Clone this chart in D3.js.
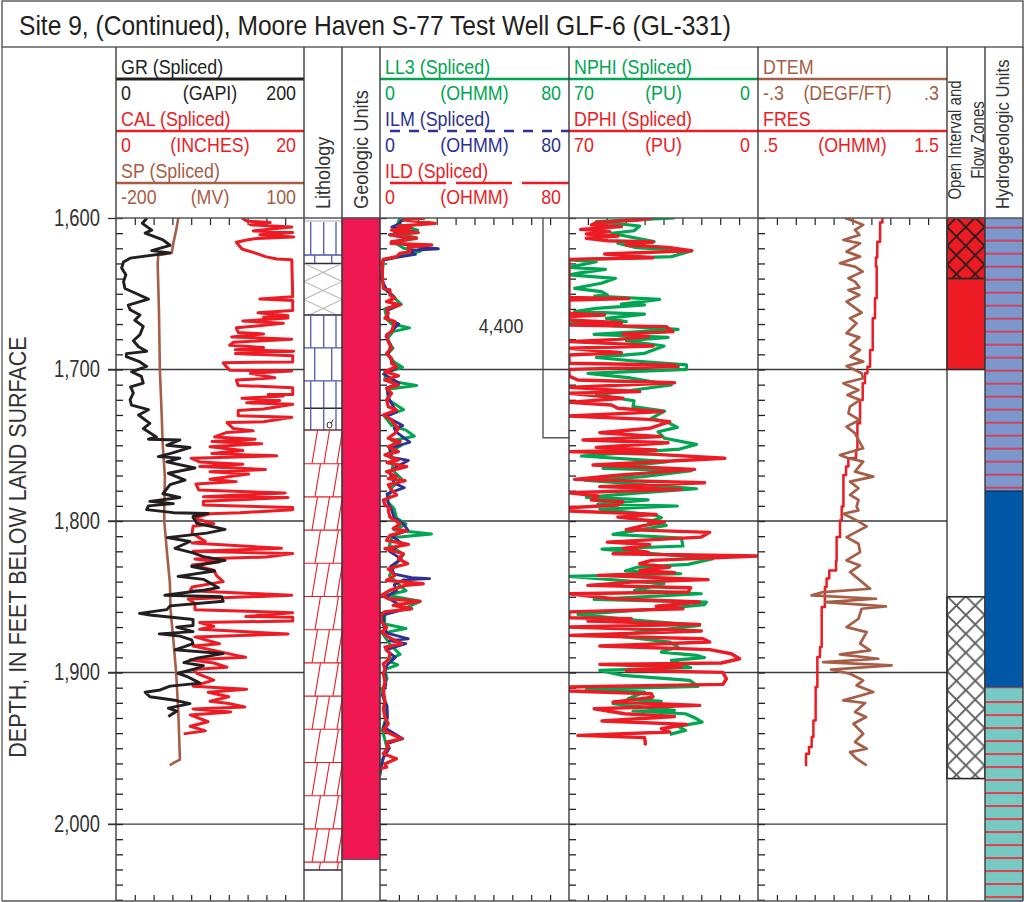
<!DOCTYPE html>
<html lang="en">
<head>
<meta charset="UTF-8">
<title>Site 9 GLF-6</title>
<script src="https://d3js.org/d3.v7.min.js"></script>
<style>
    html, body { margin: 0; padding: 0; background: #fff; }
    svg { display: block; }
    text { font-family: "Liberation Sans", sans-serif; }
    .tick-only path.domain { display: none; }
</style>
</head>
<body>
<svg id="chart" width="1024" height="902"></svg>
<script>
// Curves are [depth in feet, log value].
const gr = [[1600,33],[1603.5,28],[1608,38],[1610,31],[1614.5,50],[1618,57.5],[1621.5,38],[1623,57.5],[1626.5,15],[1629,8],[1633,6],[1637.5,10.5],[1642,8],[1646.5,9.5],[1650,22],[1653.5,34.5],[1657.5,13],[1660.5,15],[1664,25.5],[1667.5,20],[1671.5,29],[1677,25.5],[1681,18.5],[1685,24],[1688,32.6],[1689.5,11],[1691.5,11],[1695,25.5],[1698,32.6],[1701.5,16.5],[1704.5,27],[1709,29],[1711.5,15.5],[1715.5,18.5],[1720,15],[1723.5,16.5],[1726.5,34.5],[1730,24],[1735.5,36],[1739,29],[1744.5,43],[1746,34.5],[1746.5,68],[1750,54],[1751.5,78.7],[1755.5,57.5],[1757.5,45],[1758.5,68],[1761,54],[1765,84],[1768.5,55.7],[1773,73.4],[1776,57.5],[1782,50],[1784.5,68],[1787,36],[1788.5,61],[1790,34.5],[1792.5,32.6],[1794.5,61],[1795,98],[1797,82],[1801.5,86],[1805.5,116],[1808,96.5],[1811,54.6],[1813.5,78.7],[1818,62.8],[1821,82],[1823.5,93],[1826,116],[1830,80.5],[1833,105],[1836.5,66],[1838.5,93],[1844,109],[1845.5,94.7],[1849,52],[1850,112.4],[1853,114],[1856,57.5],[1858.5,54],[1861,25],[1862,36],[1865,82],[1869,82],[1870,64.5],[1873,82],[1874.5,46],[1876,68],[1878.5,80.5],[1881,82],[1885,62.8],[1887.5,114],[1890.5,86],[1893.5,72.3],[1895.5,93],[1898,82],[1900.5,66],[1902.5,75],[1907,89.4],[1909,57.5],[1911.5,47],[1913,31],[1916,36],[1918.5,64.5],[1920.5,78.7],[1923.5,55.7],[1925.5,64.5],[1929,55.7]];
const cal = [[1600,13.4],[1602,13.9],[1603,16.4],[1604.5,14.3],[1606,18.7],[1608.5,14.6],[1609.5,18.8],[1611,15.3],[1612.5,18.9],[1613.5,15],[1614.5,13.9],[1616,12.8],[1620.5,13.4],[1623.5,15],[1625.5,15.9],[1627,17.1],[1627.5,18.7],[1652,18.8],[1653.5,15.3],[1654.5,18.8],[1661,18.8],[1662.5,15.1],[1664.5,18.3],[1665.5,15.7],[1666,18.3],[1668,13.5],[1669.5,17.8],[1672.5,12.8],[1675.5,13],[1676.5,15.7],[1678.5,12.3],[1680,18.7],[1682,12.5],[1684,12.1],[1685.5,15.7],[1687,12.7],[1688,18.9],[1689.5,12.7],[1691,18.8],[1695,18.8],[1695.5,11.4],[1697,11.6],[1700.5,12.1],[1701,18.7],[1702.5,14.3],[1705.5,16.9],[1707,12.8],[1710.5,13],[1712,18.8],[1716.5,18.8],[1716.5,16.2],[1717.5,17.8],[1719,13.4],[1720.5,17.4],[1722,13.9],[1723,18.8],[1726,15.7],[1727,13],[1730.5,13],[1731.5,18.7],[1734.5,15.7],[1735,11.8],[1739,12.5],[1740.5,14.6],[1741.5,11.8],[1744.5,10.5],[1746,14.8],[1747.5,10.2],[1749,15.5],[1751,10],[1753.5,13.5],[1755.5,10.2],[1757,17.1],[1758.5,8],[1761,8.9],[1762.5,13.5],[1764,8.9],[1766,15.9],[1767.5,10],[1769,14.1],[1772.5,10],[1774,12.8],[1775.5,8.5],[1779.5,8.8],[1781.5,18],[1784,9.3],[1784.5,18.3],[1787,9.3],[1789.5,9.3],[1791,18.8],[1792.5,18.8],[1794.5,13.2],[1795.2,10],[1798,8.2],[1801.8,10.4],[1803.5,8.2],[1808,8.1],[1813.5,9.5],[1814.5,8.1],[1818,17.6],[1820,8.2],[1821.5,18.8],[1823.8,16],[1825,8.4],[1827,11],[1829,8.1],[1832.5,10.4],[1836,10.7],[1840,11.4],[1843.5,8.1],[1846,7.9],[1849,18.7],[1851.5,7.7],[1854.5,8.4],[1858.5,8.4],[1860.5,18.8],[1863,13.8],[1863.5,18.8],[1866,18.8],[1867,8.9],[1869.5,10.4],[1871.5,8.9],[1874.5,18.3],[1876.5,8.4],[1881,11],[1882.5,8.2],[1890,13.8],[1891.5,7.9],[1893.7,10.4],[1896.5,11.8],[1898,8.2],[1900.5,8.6],[1905,10.4],[1909,8.2],[1911,13.9],[1913,9.8],[1916,12],[1919,10],[1920.5,12],[1922.8,13.7],[1924,8.2],[1926,12.2],[1928,7.9],[1932.5,9.8],[1935.5,7.9],[1938.5,9.5],[1940.5,7.2]];
const sp = [[1600,-100.5],[1608,-104],[1616.7,-108.5],[1623,-111],[1624.5,-132.5],[1630,-133.5],[1660.5,-131.5],[1700,-130],[1731,-127],[1749,-125.5],[1771,-122],[1792,-123],[1800,-123],[1819,-119],[1841,-114],[1858.5,-113],[1878.3,-108.5],[1900.3,-104],[1926.7,-100.5],[1957.5,-98],[1959.7,-108.5],[1961.3,-114]];

const ll3 = [[1600,13],[1601.5,8],[1604,7.5],[1608,16],[1610,6],[1613,15.5],[1616,6],[1620,10],[1622,17],[1625.5,8],[1627.5,1.5],[1640,0.8],[1647,2],[1650,4.5],[1654,7],[1657,9],[1660,2],[1667,3],[1670,5],[1672.5,12.5],[1675,5.5],[1680,3],[1686,5.5],[1690,3],[1695,6],[1698.5,9.5],[1702,2.5],[1707,2],[1710.5,15.5],[1713,3],[1720,3.5],[1726.5,10],[1731,2],[1737,5],[1740,11],[1744,14.5],[1747,5],[1750,9],[1756,3],[1760,6],[1766,5],[1772,9],[1778,5],[1787,3],[1792,6],[1798,7],[1802,11],[1806,6],[1808.5,21.8],[1811,5],[1816,4],[1822,10],[1830,6],[1836,4],[1842,8],[1846,11],[1849,3],[1853,17],[1858,10],[1861,2],[1868,2],[1871,11],[1874,1],[1881,4],[1888,8.5],[1892,3],[1895,7.5],[1898,2],[1904,3],[1912,0.8],[1920,2],[1930,2.5],[1938,1],[1944,2],[1950,3],[1958,1],[1968,0]];
const ilm = [[1600,13],[1602,9],[1604,8],[1606,5],[1609,14],[1611,4],[1614,13],[1616,5],[1619,16],[1620.3,24.7],[1621.5,12],[1624,15],[1626,7],[1628,1.2],[1640,0.5],[1648,3],[1652,6],[1655,3.5],[1658,7.5],[1661,3],[1667,3.5],[1670,8],[1673,6],[1678,2.5],[1684,4.5],[1690,3.5],[1696,5.5],[1699,7],[1703,1.5],[1709,8.2],[1712,3],[1720,4],[1728,7],[1731,2.5],[1737,9.6],[1739,6],[1742,7.5],[1748,12.6],[1752,4],[1758,5],[1760,12],[1764,7],[1768,4],[1775,6],[1778,10.3],[1782,3],[1788,3.5],[1793,5],[1798,6],[1802,10],[1806,11.8],[1810,5],[1815,9.5],[1820,4],[1825,9],[1830,4.5],[1835,6],[1837.4,13.4],[1838,21],[1838.8,10],[1842,6],[1846,7],[1850,2.5],[1858,11],[1862,1.5],[1869,1.5],[1874,3],[1877.7,12],[1879,4],[1881,10.9],[1885,2.5],[1890,6.5],[1895,3],[1900,2],[1908,2.5],[1915,1],[1922,3],[1930,3.2],[1936,1.5],[1943.7,9.6],[1947,3],[1950,4],[1956,1.5],[1962,0.5],[1966,0]];
const ild = [[1600,19],[1601.3,9.9],[1603.5,23.3],[1605.3,7.8],[1606.5,13],[1608,4.9],[1609.7,16.2],[1611.2,4.2],[1613.4,15.5],[1615.6,4.9],[1616.7,4.7],[1617.8,21.9],[1619.4,12],[1622.2,12.7],[1623.3,8.5],[1625.5,7],[1627.3,1.4],[1628.8,1],[1638.7,1],[1646.4,1.4],[1647.5,4.2],[1650.8,4.2],[1653,6.3],[1655.2,2.8],[1657.4,8.5],[1659.6,2.8],[1662.9,3.5],[1666.2,2.1],[1668.4,6.3],[1671.7,5.6],[1675,4.9],[1677.2,2.8],[1681.6,3.5],[1686,4.9],[1689.3,2.8],[1692.6,4.9],[1696,4.9],[1698.1,7],[1701.4,2.1],[1704.1,7.8],[1706.9,2.1],[1710.2,7.8],[1712.4,2.8],[1715.7,4.9],[1720.1,2.8],[1724.5,3.5],[1726.7,7],[1730,1.4],[1733.3,4.9],[1735.5,5.6],[1738.9,7.8],[1742.1,6.3],[1745.4,3.5],[1747.6,8.5],[1751,3.5],[1754.2,7.8],[1756.4,2.1],[1759.7,7.8],[1761.5,3],[1764.1,11.3],[1767.4,2.8],[1770.7,7],[1772,3.5],[1773.4,10.6],[1776.2,3.5],[1779.5,4.9],[1782.8,7],[1786.1,1.4],[1789.4,2.1],[1791.6,4.2],[1793,3.5],[1797.4,4.2],[1801.8,8.5],[1805,5.6],[1806.6,11.3],[1809.5,4.2],[1812.8,2.8],[1815.4,12],[1818.3,2.1],[1821.6,9.9],[1824.9,7.8],[1828.2,11.7],[1831.5,3.5],[1835.9,6.3],[1839.2,2.8],[1841.4,18.3],[1842.5,10.6],[1845.8,4.2],[1849,0.7],[1851.3,3.5],[1853,16.9],[1855.7,5.6],[1857.9,13.4],[1860,2.1],[1862.3,0],[1866.7,0.7],[1870.4,2.8],[1873.3,0.7],[1876.6,3.5],[1881,9.2],[1883.2,2.1],[1887.6,4.2],[1892,3.5],[1894.2,1.4],[1897.5,2.1],[1900.8,1.4],[1906.3,2.1],[1911.8,1.4],[1918.4,2.1],[1923.9,1.4],[1929.4,2.1],[1933.8,3.5],[1938.2,1.4],[1943.7,9.2],[1945.9,2.8],[1949.2,3.5],[1953.6,1.4],[1956.9,7],[1960.2,2.1],[1962.4,2.8],[1963.5,0]];

const nphi = [[1600,30.9],[1602.4,59.9],[1605.3,43.8],[1608.4,45.9],[1610.1,54.3],[1615.6,38.5],[1616.7,51.9],[1619.6,45.1],[1621.6,24.4],[1625.5,32.1],[1627.7,70],[1628.8,59.9],[1632.6,70],[1633.9,56.5],[1636.1,65.4],[1637.6,70],[1639.8,52.8],[1643.1,58],[1646.4,67.9],[1648.6,58],[1650.8,55.8],[1651.5,60.5],[1653.7,36.4],[1656.8,50.6],[1657.4,42],[1659.6,59.9],[1661.8,67.9],[1663.4,42],[1666.2,56.2],[1668.4,48.8],[1669.5,70],[1673.5,29.6],[1676.8,60.7],[1678.8,33.3],[1681,48.8],[1684.5,34.8],[1689.3,42],[1692,59.9],[1694.2,46.9],[1697,26.5],[1699.9,26.5],[1702.5,63],[1705.4,48.1],[1710.2,32.1],[1716.8,59.9],[1720.6,45.9],[1724.5,46.3],[1727.4,34.6],[1732.2,39.5],[1735.5,32.7],[1738.2,29.9],[1741.1,37],[1745.4,34.6],[1749.4,22.8],[1752.5,29],[1757.1,65.4],[1760.8,33.3],[1765.2,57.4],[1766.8,24.7],[1770.7,42.6],[1773,64.2],[1778.7,22.8],[1781.8,46.3],[1784.4,63.6],[1786.1,40.7],[1788.8,59.3],[1790.1,29.9],[1792.1,58.6],[1796.3,37.7],[1797.8,35.8],[1800.7,40.7],[1802.9,34],[1808.8,53.7],[1811.2,28.4],[1816.5,27.8],[1818.5,57.8],[1824.9,16.7],[1828.6,25.9],[1830.4,44.4],[1833,49.1],[1834.8,28.6],[1836.5,70],[1841.4,34.8],[1845.8,45.7],[1848,21],[1851.7,60.7],[1853.5,19.1],[1855.2,19.8],[1857.9,35.8],[1861.6,66.7],[1863.4,56.8],[1865.6,44.7],[1868.9,21.6],[1875.5,53.7],[1879.9,32.7],[1883.2,29.6],[1886.5,35.8],[1888.7,22.8],[1890.2,19.8],[1892,32.1],[1896.8,24.9],[1898.6,58.6],[1901.9,50],[1905.2,25.3],[1909.1,22.2],[1911.1,63.6],[1912.9,42],[1917.3,48.1],[1919,35.8],[1920.6,53.7],[1925,30.9],[1925.4,46.3],[1927.2,26.9],[1929.8,23.5],[1932.7,20.7],[1935.5,29.6],[1938.2,26.9],[1940.8,32.7]];
const dphi = [[1600,38.9],[1601.3,44.4],[1603,59.9],[1604.6,61.7],[1605.7,50.6],[1607.5,65.7],[1609,54.9],[1610.6,63.6],[1611.9,51.9],[1613.4,63.6],[1615,55.6],[1615.8,38.9],[1617.8,48.8],[1619.4,33.3],[1621.6,24.7],[1623.8,56.8],[1626.2,38.9],[1627.3,70],[1652.4,70],[1653.2,47.8],[1654.1,70],[1662.9,70],[1664,56.8],[1665.1,70],[1667.3,70],[1669.1,50.6],[1670.6,70],[1671.7,34],[1675,31.5],[1676.6,50],[1678.3,40.7],[1680.1,51.9],[1681.6,70],[1683.4,46.9],[1684.5,38.9],[1686,70],[1688.9,50.6],[1690.4,70],[1695.9,70],[1697,31.5],[1698.1,29.6],[1699.9,70],[1704.3,70],[1706.9,66.7],[1708.7,30.9],[1711.8,70],[1714.6,43.8],[1715.7,70],[1719,50],[1721.7,70],[1723.4,54.3],[1725.6,51.9],[1727.8,35.2],[1730.7,70],[1732.9,40.7],[1734.4,32.7],[1738.8,40.1],[1741.7,58.6],[1744.3,35.8],[1746.5,64.8],[1748.3,33.3],[1751.4,59.9],[1753.1,37.7],[1754.2,70],[1756,37.7],[1758.6,12.3],[1763,61.1],[1765.9,23.5],[1770,53.1],[1772.5,67.9],[1774.7,19.8],[1777.3,58.6],[1779.1,28.4],[1781.3,70],[1783.5,59.3],[1786.1,61.7],[1787.2,50],[1789.4,51.9],[1791.2,70],[1793.4,70],[1795.6,37.7],[1797.4,51.9],[1800.7,34.6],[1802.9,42],[1805.7,48.8],[1807.5,17.9],[1810.6,21],[1813.9,55.8],[1815.6,40.1],[1818.3,50],[1820.5,40.7],[1821.6,53.7],[1823.1,0],[1826,39.5],[1828.2,43.8],[1830.4,32.7],[1832.6,43.8],[1834.1,30.9],[1835.9,59.3],[1838.7,18.5],[1840.3,46.9],[1842.5,63],[1844,24.9],[1846.9,25.9],[1848,70],[1851.3,53.7],[1853.5,21.6],[1856.3,37.7],[1857.9,27.8],[1860,70],[1863.8,70],[1864.5,46.9],[1866,63],[1868.2,21.6],[1870,70],[1872.6,21],[1875.5,70],[1877.7,20.4],[1879.9,17.9],[1882.5,58.6],[1884.9,17.9],[1887.6,9.9],[1890.9,6.8],[1893.7,13.6],[1894.6,58.6],[1896.4,28.4],[1898.6,48.8],[1899.9,13],[1904.1,11.7],[1907.8,13],[1909.6,70],[1912.2,70],[1914,39.5],[1916.2,38.9],[1919.5,53.7],[1921.7,21.6],[1923.9,60.7],[1927.2,49.4],[1929,30.9],[1932,57.8],[1934.2,26.5],[1937.1,35.8],[1939.3,32.7],[1941.5,66.7],[1943,42],[1947,41.7],[1948,42]];

const dtem = [[1600,-0.024],[1602,0.003],[1604.6,0.034],[1607.9,0.008],[1611.2,0.022],[1614.5,-0.029],[1616.7,0.024],[1622.2,-0.019],[1625.5,0.024],[1629.9,-0.04],[1632.1,0.008],[1635.4,0.032],[1639.8,-0.013],[1642,0.008],[1645.8,0.022],[1647.5,-0.013],[1650.8,0.022],[1655.2,-0.019],[1658.5,0.003],[1662.5,0.029],[1666.2,-0.008],[1669.5,0.013],[1676.1,-0.019],[1678.8,0.022],[1683.8,-0.008],[1687.1,0.024],[1691.5,-0.006],[1694.8,0.034],[1697.7,-0.019],[1702.5,0.029],[1705.8,0.034],[1709.1,-0.029],[1713.5,0.019],[1716.8,-0.016],[1720.1,0.024],[1724.5,-0.008],[1728.9,-0.013],[1733.3,0.022],[1737.7,-0.019],[1742.1,0.008],[1746.5,0.019],[1752,0.034],[1756.4,-0.04],[1758.6,-0.013],[1760.8,0.034],[1767.4,0.008],[1770.7,0.066],[1774,-0.008],[1778.4,0.019],[1782.8,-0.008],[1786.1,0.019],[1790.5,0.013],[1793,0.019],[1795.2,-0.029],[1799.6,0.013],[1803.5,0.045],[1810.6,-0.019],[1815,0.019],[1820.5,0.024],[1826,-0.019],[1829.3,0.024],[1833.7,-0.008],[1839.2,0.024],[1844.7,0.056],[1846.9,-0.093],[1849.1,-0.13],[1851.3,0.075],[1853.5,-0.087],[1856.3,0.106],[1857.9,0.029],[1864.5,0.019],[1870,-0.019],[1873.3,0.045],[1881,0.024],[1885.4,0.056],[1888,-0.04],[1890.9,0.082],[1893.1,-0.093],[1895.3,0.124],[1898.1,-0.068],[1900.8,-0.008],[1905.2,0.034],[1908.5,0.013],[1912.9,0.066],[1918.4,-0.029],[1920.1,0.04],[1926,0.008],[1929.4,0.043],[1933.8,0.003],[1940.4,0.034],[1945.9,0.008],[1950.3,0.045],[1952.5,-0.008],[1956.9,0.013],[1961.3,0.045]];
const fres = [[1600,1.158],[1603,1.146],[1615.6,1.131],[1626,1.124],[1632,1.128],[1637.6,1.128],[1653,1.119],[1666.2,1.107],[1687.1,1.093],[1698.1,1.079],[1702.5,1.066],[1709.1,1.054],[1720.1,1.04],[1735.5,1.026],[1753.1,1.019],[1758.6,0.978],[1764.1,0.966],[1769.6,0.952],[1790.5,0.943],[1793,0.943],[1799.6,0.934],[1810.6,0.916],[1826.6,0.913],[1832.6,0.877],[1838,0.863],[1843.6,0.854],[1856.8,0.837],[1883.2,0.828],[1889.8,0.814],[1909.6,0.805],[1931.6,0.793],[1942.6,0.784],[1949.2,0.77],[1953.6,0.754],[1961.9,0.754]];

const depthTicks = [1600, 1700, 1800, 1900, 2000];
const gridDepths = [1700, 1800, 1900, 2000];
const minorDepths = d3.range(1600, 2051, 10);

// Lithology intervals: top depth, bottom depth, kind.
const lithTops = [1600, 1630, 1664, 1725.5, 1740];
const lithBottoms = [1630, 1664, 1725.5, 1740, 2030.4];
const lithKinds = ["limestone", "silt", "limestone", "limestone", "dolomite"];
const geologicBottom = 2023.4;
const openTops = [1600, 1640, 1850];
const openBottoms = [1640, 1700, 1970];
const openKinds = ["hatchRed", "solidRed", "hatchWhite"];
const hydroTops = [1600, 1780.2, 1910];
const hydroBottoms = [1780.2, 1910, 2051];
const hydroColors = ["#7b97cc", "#0058a6", "#77c9c4"];
const cementedInterval = [1600, 1745];
const cementedLabel = "4,400";

const C = { black: "#231f20", red: "#ed1c24", brown: "#a65e46", green: "#00a651", blue: "#2e3192" };

const tracks = [
    { x0: 116, x1: 304, head: [
        { name: "GR (Spliced)", unit: "(GAPI)", lo: "0", hi: "200", color: C.black, w: 3 },
        { name: "CAL (Spliced)", unit: "(INCHES)", lo: "0", hi: "20", color: C.red, w: 2.4 },
        { name: "SP (Spliced)", unit: "(MV)", lo: "-200", hi: "100", color: C.brown, w: 2.4 }
    ], curves: [
        { data: cal, domain: [0, 20], color: C.red, w: 3 },
        { data: sp, domain: [-200, 100], color: C.brown, w: 2.6 },
        { data: gr, domain: [0, 200], color: C.black, w: 2.9 }
    ]},
    { x0: 380, x1: 569, head: [
        { name: "LL3 (Spliced)", unit: "(OHMM)", lo: "0", hi: "80", color: C.green, w: 2.4 },
        { name: "ILM (Spliced)", unit: "(OHMM)", lo: "0", hi: "80", color: C.blue, w: 2.4, dash: "10,9", inset: 10 },
        { name: "ILD (Spliced)", unit: "(OHMM)", lo: "0", hi: "80", color: C.red, w: 2.4, dash: "56,10", inset: 10 }
    ], curves: [
        { data: ll3, domain: [0, 80], color: C.green, w: 3 },
        { data: ilm, domain: [0, 80], color: C.blue, w: 2.8 },
        { data: ild, domain: [0, 80], color: C.red, w: 3.3 }
    ]},
    { x0: 569, x1: 758, head: [
        { name: "NPHI (Spliced)", unit: "(PU)", lo: "70", hi: "0", color: C.green, w: 2.4 },
        { name: "DPHI (Spliced)", unit: "(PU)", lo: "70", hi: "0", color: C.red, w: 2.4 }
    ], curves: [
        { data: nphi, domain: [70, 0], color: C.green, w: 3.2 },
        { data: dphi, domain: [70, 0], color: C.red, w: 3.4 }
    ]},
    { x0: 758, x1: 947, head: [
        { name: "DTEM", unit: "(DEGF/FT)", lo: "-.3", hi: ".3", color: C.brown, w: 2.4, unitShift: -5 },
        { name: "FRES", unit: "(OHMM)", lo: ".5", hi: "1.5", color: C.red, w: 2.4 }
    ], curves: [
        { data: fres, domain: [0.5, 1.5], color: C.red, w: 2.5, step: true },
        { data: dtem, domain: [-0.3, 0.3], color: C.brown, w: 2.7 }
    ]}
];

const svg = d3.select("#chart");
const y = d3.scaleLinear().domain([1600, 2051]).range([218, 901.3]);
const defs = svg.append("defs");
const frame = "#3a3a3a";

// Title box
svg.append("rect").attr("x", 2).attr("y", 1).attr("width", 1021).attr("height", 46)
    .attr("fill", "none").attr("stroke", "#555").attr("stroke-width", 1.4);
svg.append("text").attr("x", 19).attr("y", 35).attr("font-size", 28.5).attr("fill", C.black).attr("data-n", 0.862)
    .text("Site 9, (Continued), Moore Haven S-77 Test Well GLF-6 (GL-331)");

// Cross hatch fills for the open interval column
function hatch(id, bg, line, w, py) {
    const p = defs.append("pattern").attr("id", id).attr("patternUnits", "userSpaceOnUse")
        .attr("width", 18.8).attr("height", 18.8).attr("x", 947).attr("y", py);
    p.append("rect").attr("width", 18.8).attr("height", 18.8).attr("fill", bg);
    p.append("path").attr("d", "M0,0L18.8,18.8M18.8,0L0,18.8").attr("stroke", line).attr("stroke-width", w);
}
hatch("hatchRed", C.red, "#2a1a1a", 1.8, 227);
hatch("hatchWhite", "#fff", "#5c5c5c", 1.9, 615);

// Grid lines
const gridG = svg.append("g").attr("stroke", "#3a3a3a").attr("stroke-width", 1.3);
gridDepths.forEach(d => {
    gridG.append("line").attr("x1", 108).attr("x2", 304).attr("y1", y(d)).attr("y2", y(d));
    gridG.append("line").attr("x1", 380).attr("x2", 947).attr("y1", y(d)).attr("y2", y(d));
});

// Lithology column
const lith = svg.append("g");
lithKinds.forEach((kind, i) => {
    const top = y(lithTops[i]), bot = y(lithBottoms[i]);
    const clipId = "lith" + i;
    defs.append("clipPath").attr("id", clipId).append("rect")
        .attr("x", 304).attr("y", top).attr("width", 38).attr("height", bot - top);
    const g = lith.append("g").attr("clip-path", `url(#${clipId})`);
    if (kind === "limestone") {
        const start = i === 0 ? top + 4 : top;
        d3.range(0, 8).forEach(r => {
            const a = start + r * 33, b = a + 33;
            if (a > bot) return;
            g.append("line").attr("x1", 304).attr("x2", 342).attr("y1", b).attr("y2", b)
                .attr("stroke", "#4a55a8").attr("stroke-width", 1.3);
            (r % 2 ? [10.7, 27.7] : [6.7, 19.7, 32]).forEach(dx => {
                g.append("line").attr("x1", 304 + dx).attr("x2", 304 + dx).attr("y1", a).attr("y2", b)
                    .attr("stroke", "#5a66b4").attr("stroke-width", 1.4);
            });
        });
    } else if (kind === "silt") {
        d3.range(0, 3).forEach(r => {
            const a = top + r * 18;
            g.append("path").attr("d", `M304,${a}L342,${a + 18}M342,${a}L304,${a + 18}`)
                .attr("stroke", "#bbb").attr("stroke-width", 1.2).attr("fill", "none");
        });
    } else {
        d3.range(0, 14).forEach(r => {
            const b = bot - 8 - (r - 1) * 33.2, a = b - 33.2;
            g.append("line").attr("x1", 304).attr("x2", 342).attr("y1", a + 33.2).attr("y2", a + 33.2)
                .attr("stroke", C.red).attr("stroke-width", 1.1);
            (r % 2 ? [8, 20, 33] : [11, 29]).forEach(dx => {
                g.append("line").attr("x1", 304 + dx).attr("x2", 304 + dx + 5.5).attr("y1", a + 33.2).attr("y2", a)
                    .attr("stroke", C.red).attr("stroke-width", 1.1);
            });
        });
    }
    lith.append("line").attr("x1", 304).attr("x2", 342).attr("y1", bot).attr("y2", bot)
        .attr("stroke", i === 3 ? "#7a2a30" : "#2a2a44").attr("stroke-width", 1.5);
});
lith.append("line").attr("x1", 304).attr("x2", 342).attr("y1", y(1600) + 3).attr("y2", y(1600) + 3)
    .attr("stroke", "#aaa").attr("stroke-width", 1);
lith.append("ellipse").attr("cx", 329.5).attr("cy", 425).attr("rx", 2.4).attr("ry", 3)
    .attr("fill", "none").attr("stroke", "#333").attr("stroke-width", 1);
lith.append("line").attr("x1", 331).attr("x2", 333).attr("y1", 424).attr("y2", 419.5)
    .attr("stroke", "#333").attr("stroke-width", 1);

// Geologic units column
svg.append("rect").attr("x", 342).attr("y", y(1600)).attr("width", 38)
    .attr("height", y(geologicBottom) - y(1600)).attr("fill", "#ef1651").attr("stroke", "#444").attr("stroke-width", 0.8);

// Open interval and flow zones column
openKinds.forEach((kind, i) => {
    svg.append("rect").attr("x", 947).attr("y", y(openTops[i])).attr("width", 38)
        .attr("height", y(openBottoms[i]) - y(openTops[i]))
        .attr("fill", kind === "solidRed" ? C.red : `url(#${kind})`)
        .attr("stroke", "#2a2a2a").attr("stroke-width", 1.6);
});

// Hydrogeologic units column
hydroColors.forEach((c, i) => {
    svg.append("rect").attr("x", 985).attr("y", y(hydroTops[i])).attr("width", 38)
        .attr("height", y(hydroBottoms[i]) - y(hydroTops[i])).attr("fill", c);
});
d3.range(1606.4, 1780, 8.58).forEach(d => {
    svg.append("rect").attr("x", 985).attr("y", y(d) - 1).attr("width", 38).attr("height", 2).attr("fill", "#cf4460");
});
d3.range(1919.5, 2050, 8.58).forEach(d => {
    svg.append("rect").attr("x", 985).attr("y", y(d) - 1).attr("width", 38).attr("height", 2).attr("fill", "#e2404c");
});
svg.append("line").attr("x1", 985).attr("x2", 1023).attr("y1", y(1780.2)).attr("y2", y(1780.2)).attr("stroke", "#123").attr("stroke-width", 1);
svg.append("line").attr("x1", 985).attr("x2", 1023).attr("y1", y(1910)).attr("y2", y(1910)).attr("stroke", "#a33").attr("stroke-width", 1);

// Tracks: ticks, curves, header
tracks.forEach((t, ti) => {
    const ticksX = d3.scaleLinear().domain([0, 10]).range([t.x0, t.x1]);
    svg.append("g").attr("class", "tick-only").attr("transform", "translate(0,218)")
        .call(d3.axisBottom(ticksX).tickValues(d3.range(1, 10)).tickSize(7).tickFormat(""))
        .call(s => s.selectAll("line").attr("stroke", "#222").attr("stroke-width", 1.2));
    svg.append("g").attr("class", "tick-only").attr("transform", "translate(0,901)")
        .call(d3.axisTop(ticksX).tickValues(d3.range(1, 10)).tickSize(6).tickFormat(""))
        .call(s => s.selectAll("line").attr("stroke", "#222").attr("stroke-width", 1.2));
    svg.append("g").attr("class", "tick-only").attr("transform", `translate(${t.x0},0)`)
        .call(d3.axisRight(y).tickValues(minorDepths).tickSize(7).tickFormat(""))
        .call(s => s.selectAll("line").attr("stroke", "#222").attr("stroke-width", 1.3));

    defs.append("clipPath").attr("id", "track" + ti).append("rect")
        .attr("x", t.x0).attr("y", 218).attr("width", t.x1 - t.x0).attr("height", 684);
    const clip = svg.append("g").attr("clip-path", `url(#track${ti})`);
    t.curves.forEach(c => {
        const x = d3.scaleLinear().domain(c.domain).range([t.x0, t.x1]);
        const line = d3.line().x(d => x(d[1])).y(d => y(d[0]));
        if (c.step) line.curve(d3.curveStepBefore);
        clip.append("path").attr("d", line(c.data)).attr("fill", "none")
            .attr("stroke", c.color).attr("stroke-width", c.w).attr("stroke-linejoin", "round");
    });

    t.head.forEach((h, i) => {
        const top = 52 * i;
        const hg = svg.append("g").attr("fill", h.color).attr("font-size", 21);
        hg.append("text").attr("x", t.x0 + 5).attr("y", 74 + top).text(h.name);
        hg.append("line").attr("x1", t.x0 + (h.inset || 0)).attr("x2", t.x1).attr("y1", 79 + top).attr("y2", 79 + top)
            .attr("stroke", h.color).attr("stroke-width", h.w).attr("stroke-dasharray", h.dash || null);
        hg.append("text").attr("x", t.x0 + 5).attr("y", 100 + top).text(h.lo);
        hg.append("text").attr("x", (t.x0 + t.x1) / 2 + (h.unitShift || 0)).attr("y", 100 + top).attr("text-anchor", "middle").text(h.unit);
        hg.append("text").attr("x", t.x1 - 8).attr("y", 100 + top).attr("text-anchor", "end").text(h.hi);
    });
});

// Cased interval marker in the resistivity track
const markY = y(cementedInterval[1]);
svg.append("path").attr("d", `M543,${y(cementedInterval[0])}V${markY}H569`).attr("fill", "none")
    .attr("stroke", "#555").attr("stroke-width", 1.4);
svg.append("text").attr("x", 501).attr("y", 333).attr("text-anchor", "middle").attr("font-size", 21)
    .attr("fill", "#333").text(cementedLabel);

// Frame lines drawn last so they sit over the curves
const rules = svg.append("g").attr("stroke", frame).attr("stroke-width", 1.4);
[116, 304, 342, 380, 569, 758, 947, 985, 1023].forEach(x => {
    rules.append("line").attr("x1", x).attr("x2", x).attr("y1", 47).attr("y2", 901);
});
rules.append("line").attr("x1", 2).attr("x2", 2).attr("y1", 47).attr("y2", 901).attr("stroke", "#666");
rules.append("line").attr("x1", 2).attr("x2", 1023).attr("y1", 901).attr("y2", 901).attr("stroke", "#555");
rules.append("line").attr("x1", 116).attr("x2", 1023).attr("y1", 218).attr("y2", 218).attr("stroke", "#555");

// Depth axis
const depthAxis = svg.append("g").attr("class", "tick-only").attr("transform", "translate(116,0)")
    .call(d3.axisLeft(y).tickValues(depthTicks).tickSize(8).tickPadding(8).tickFormat(d3.format(",")));
depthAxis.selectAll("line").attr("stroke", "#333").attr("stroke-width", 1.3);
depthAxis.selectAll("text").attr("font-size", 23).attr("fill", "#333").attr("font-family", '"Liberation Sans", sans-serif').attr("data-n", 0.8);
svg.append("text").attr("transform", "translate(26,547) rotate(-90)").attr("text-anchor", "middle")
    .attr("font-size", 23.5).attr("fill", "#333").attr("data-n", 0.915).text("DEPTH, IN FEET BELOW LAND SURFACE");

// Rotated column titles
function vtext(x, yy, str, size, anchor, n) {
    svg.append("text").attr("transform", `translate(${x},${yy}) rotate(-90)`).attr("text-anchor", anchor)
        .attr("font-size", size).attr("fill", "#333").attr("data-n", n).text(str);
}
vtext(330, 209, "Lithology", 21, "start", 0.86);
vtext(368, 209, "Geologic Units", 21, "start", 0.87);
vtext(961, 140, "Open Interval and", 17.5, "middle", 0.857);
vtext(983.5, 140, "Flow Zones", 17.5, "middle", 0.857);
vtext(1008.5, 209, "Hydrogeologic Units", 17.5, "start", 0.955);

// No condensed face is installed, so squeeze the glyphs to the original's set width.
svg.selectAll("text").each(function () {
    const n = +this.getAttribute("data-n") || 0.85;
    this.setAttribute("textLength", this.getComputedTextLength() * n);
    this.setAttribute("lengthAdjust", "spacingAndGlyphs");
});
</script>
</body>
</html>
